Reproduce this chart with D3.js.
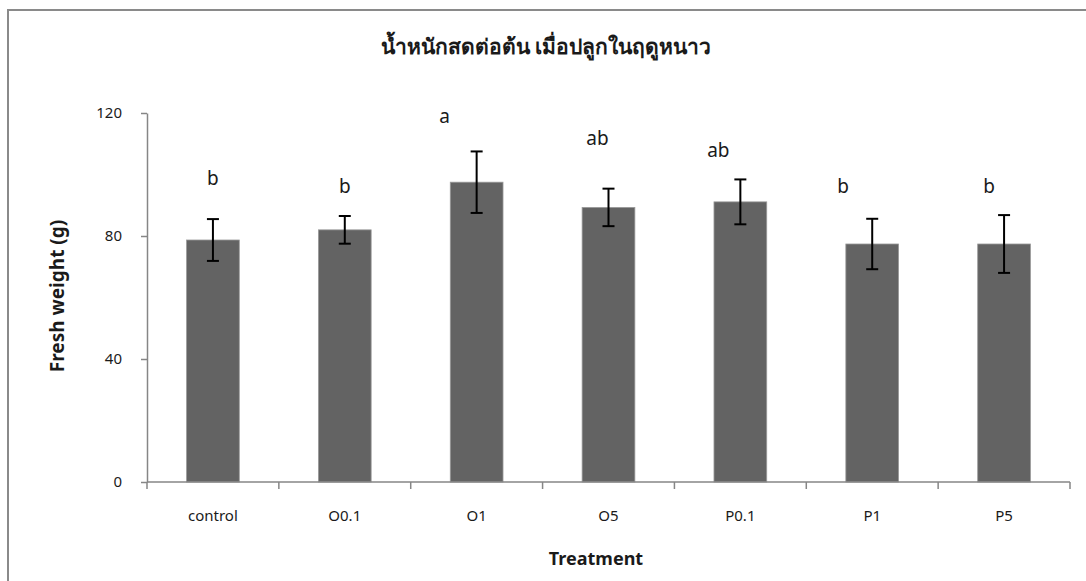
<!DOCTYPE html>
<html>
<head>
<meta charset="utf-8">
<script src="https://cdn.jsdelivr.net/npm/d3@7"></script>
<style>
  body { margin: 0; background: #fff; }
  svg text { font-family: "Noto Sans", "Open Sans", sans-serif; fill: #1a1a1a; }
</style>
</head>
<body>
<svg id="chart" width="1086" height="581"></svg>
<script>
// data
var treatments = ['control', 'O0.1', 'O1', 'O5', 'P0.1', 'P1', 'P5'];
var freshWeight = [78.7, 82.0, 97.5, 89.3, 91.1, 77.4, 77.4];
var stdErr = [6.8, 4.5, 10.0, 6.1, 7.3, 8.2, 9.4];
var letters = ['b', 'b', 'a', 'ab', 'ab', 'b', 'b'];
var letterLevel = [98.9, 96.0, 118.8, 111.8, 108.0, 96.0, 96.0]; // where the letters sit, in g
var yTicks = [0, 40, 80, 120];

var titleText = 'น้ำหนักสดต่อต้น เมื่อปลูกในฤดูหนาว';

// layout
var W = 1086, H = 581;
var plotL = 147, plotR = 1070, plotT = 113, plotB = 482;
var letterShift = [0, 0, -32, -11, -22, -29, -15]; // the letters were nudged by hand

var svg = d3.select('#chart');

// frame round the chart (right and bottom run off the picture)
svg.append('rect')
	.attr('x', 8).attr('y', 10)
	.attr('width', W).attr('height', H)
	.attr('fill', 'none')
	.attr('stroke', '#8a8a8a')
	.attr('stroke-width', 2);

var x = d3.scaleBand()
	.domain(treatments)
	.range([plotL, plotR])
	.paddingInner(0.6)
	.paddingOuter(0.3);

var y = d3.scaleLinear()
	.domain([0, 120])
	.range([plotB, plotT]);

var step = x.step();
var rows = treatments.map((t, i) => ({t: t, v: freshWeight[i], se: stdErr[i], l: letters[i], ly: letterLevel[i], dx: letterShift[i]}));

// bars
svg.append('g').selectAll('rect')
	.data(rows)
	.join('rect')
	.attr('x', d => x(d.t))
	.attr('y', d => y(d.v))
	.attr('width', x.bandwidth())
	.attr('height', d => y(0) - y(d.v))
	.attr('fill', '#636363')
	.attr('stroke', '#9a9a9a')
	.attr('stroke-width', 0.8);

// y axis
var yAxis = svg.append('g')
	.attr('transform', 'translate(' + plotL + ',0)')
	.call(d3.axisLeft(y).tickValues(yTicks).tickSize(6).tickSizeOuter(0).tickPadding(19));
yAxis.select('.domain').attr('stroke', '#868686').attr('stroke-width', 1.5);
yAxis.selectAll('.tick line').attr('stroke', '#868686').attr('stroke-width', 1.5);
yAxis.selectAll('.tick text')
	.attr('font-size', 15)
	.style('font-family', '"Noto Sans", sans-serif')
	.attr('fill', '#1a1a1a');

// x axis: line plus ticks between the categories
var xg = svg.append('g');
xg.append('line')
	.attr('x1', plotL).attr('x2', plotR)
	.attr('y1', y(0)).attr('y2', y(0))
	.attr('stroke', '#868686').attr('stroke-width', 1.5);
xg.selectAll('line.tk')
	.data(d3.range(treatments.length + 1))
	.join('line')
	.attr('class', 'tk')
	.attr('x1', i => plotL + i * step).attr('x2', i => plotL + i * step)
	.attr('y1', y(0)).attr('y2', y(0) + 7)
	.attr('stroke', '#868686').attr('stroke-width', 1.5);
xg.selectAll('text')
	.data(treatments)
	.join('text')
	.attr('x', d => x(d) + x.bandwidth() / 2)
	.attr('y', 521)
	.attr('text-anchor', 'middle')
	.attr('font-size', 15)
	.text(d => d);

// error bars
var eb = svg.append('g').attr('stroke', '#000').attr('stroke-width', 2);
rows.forEach(d => {
	var cx = x(d.t) + x.bandwidth() / 2;
	eb.append('line').attr('x1', cx).attr('x2', cx).attr('y1', y(d.v + d.se)).attr('y2', y(d.v - d.se));
	eb.append('line').attr('x1', cx - 6).attr('x2', cx + 6).attr('y1', y(d.v + d.se)).attr('y2', y(d.v + d.se));
	eb.append('line').attr('x1', cx - 6).attr('x2', cx + 6).attr('y1', y(d.v - d.se)).attr('y2', y(d.v - d.se));
});

// letters
svg.append('g').selectAll('text')
	.data(rows)
	.join('text')
	.attr('x', d => x(d.t) + x.bandwidth() / 2 + d.dx)
	.attr('y', d => y(d.ly))
	.attr('dy', '0.35em')
	.attr('text-anchor', 'middle')
	.attr('font-size', 19)
	.text(d => d.l);

// titles
svg.append('text')
	.attr('x', 546).attr('y', 54)
	.attr('text-anchor', 'middle')
	.attr('font-size', 21)
	.attr('font-weight', 'bold')
	.text(titleText);

svg.append('text')
	.attr('x', 596).attr('y', 565)
	.attr('text-anchor', 'middle')
	.attr('font-size', 18)
	.attr('font-weight', 'bold')
	.text('Treatment');

svg.append('text')
	.attr('transform', 'translate(64,296) rotate(-90)')
	.attr('text-anchor', 'middle')
	.attr('font-size', 19)
	.attr('font-weight', 'bold')
	.text('Fresh weight (g)');
</script>
</body>
</html>
